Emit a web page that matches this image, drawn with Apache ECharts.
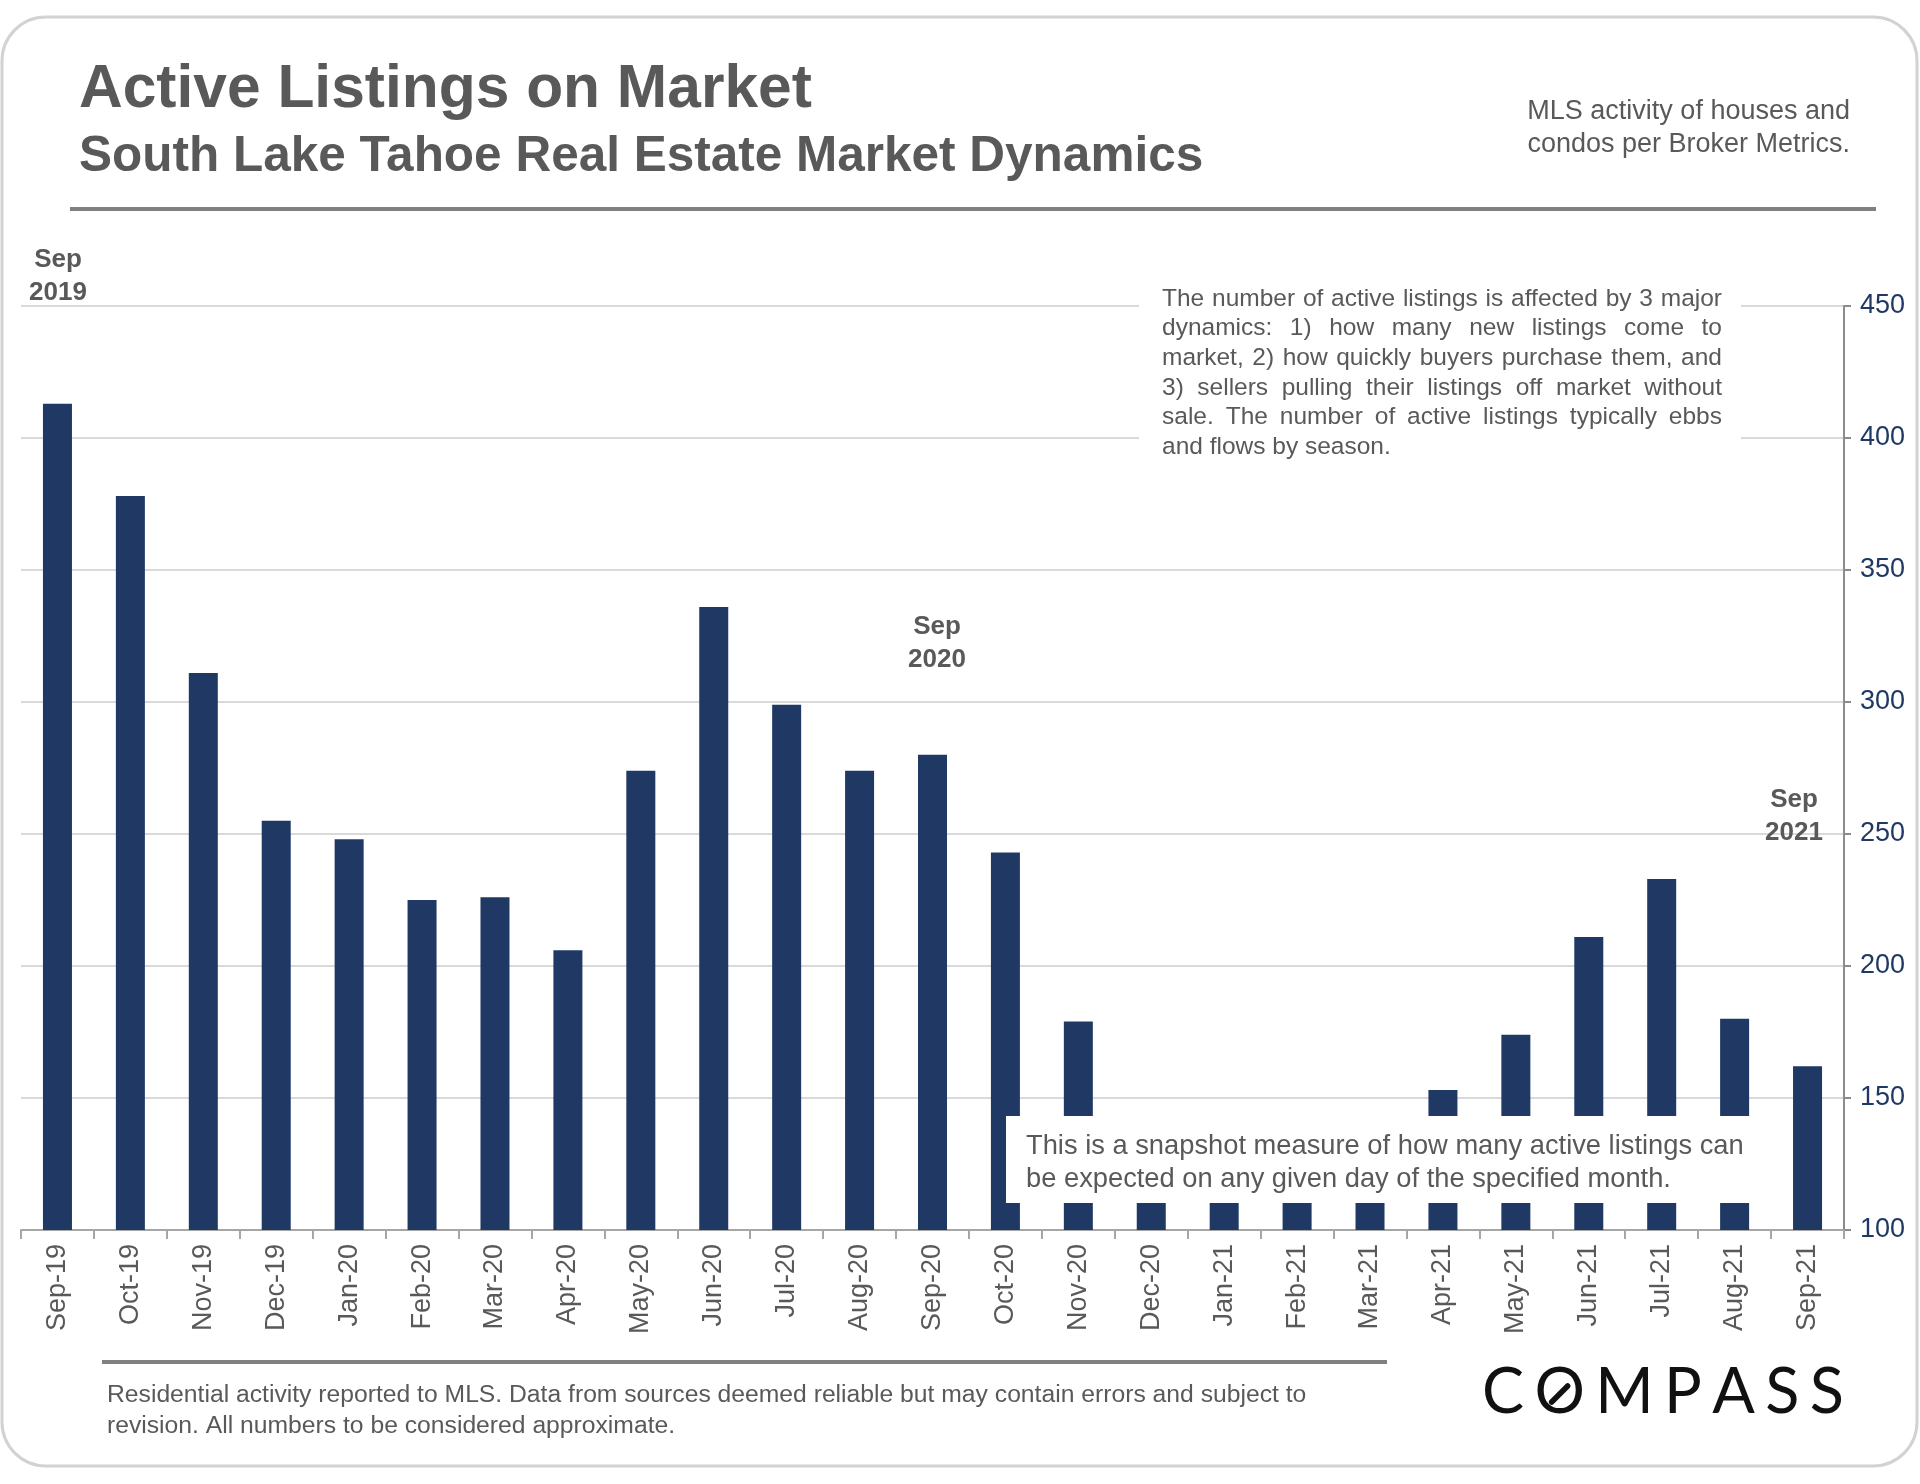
<!DOCTYPE html>
<html>
<head>
<meta charset="utf-8">
<script src="https://cdn.jsdelivr.net/npm/echarts@6/dist/echarts.min.js"></script>
<style>
html,body{margin:0;padding:0;background:#fff;}
#chart{width:1920px;height:1484px;}
</style>
</head>
<body>
<div id="chart"></div>
<script>
// ---------- data ----------
const categories = ['Sep-19','Oct-19','Nov-19','Dec-19','Jan-20','Feb-20','Mar-20','Apr-20','May-20','Jun-20','Jul-20','Aug-20','Sep-20','Oct-20','Nov-20','Dec-20','Jan-21','Feb-21','Mar-21','Apr-21','May-21','Jun-21','Jul-21','Aug-21','Sep-21'];
const activeListings = [413,378,311,255,248,225,226,206,274,336,299,274,280,243,179,138,124,117,128,153,174,211,233,180,162];
const yMin = 100, yMax = 450, yInterval = 50;

const titleText = 'Active Listings on Market';
const subtitleText = 'South Lake Tahoe Real Estate Market Dynamics';
const sourceLines = ['MLS activity of houses and', 'condos per Broker Metrics.'];
const dynamicsLines = [
  'The number of active listings is affected by 3 major',
  'dynamics: 1) how many new listings come to',
  'market, 2) how quickly buyers purchase them, and',
  '3) sellers pulling their listings off market without',
  'sale. The number of active listings typically ebbs',
  'and flows by season.'
];
const snapshotLines = [
  'This is a snapshot measure of how many active listings can',
  'be expected on any given day of the specified month.'
];
const footerLines = [
  'Residential activity reported to MLS. Data from sources deemed reliable but may contain errors and subject to',
  'revision. All numbers to be considered approximate.'
];
const yearMarks = [
  {text:'Sep\n2019', x:58, y:276},
  {text:'Sep\n2020', x:937, y:643},
  {text:'Sep\n2021', x:1794, y:816}
];
const logoText = 'COMPASS';

// ---------- style ----------
const FONT = '"Liberation Sans", Arial, Helvetica, sans-serif';
const GRAY = '#595959';
const NAVY = '#1f3864';

const measureCtx = document.createElement('canvas').getContext('2d');
function justified(lines, x, y0, width, lineH, font, color) {
  measureCtx.font = font;
  const els = [];
  lines.forEach((line, i) => {
    const words = line.split(' ');
    const ws = words.map(w => measureCtx.measureText(w).width);
    const total = ws.reduce((a, b) => a + b, 0);
    const isLast = i === lines.length - 1;
    const gap = (isLast || words.length < 2) ? measureCtx.measureText(' ').width : (width - total) / (words.length - 1);
    let cx = x;
    words.forEach((w, j) => {
      els.push({type:'text', x:cx, y:y0 + i*lineH, z:110, silent:true,
        style:{text:w, font:font, fill:color, textAlign:'left', textVerticalAlign:'middle'}});
      cx += ws[j] + gap;
    });
  });
  return els;
}

const graphics = [];
// card outline
graphics.push({type:'rect', z:0, silent:true, shape:{x:2, y:17, width:1915, height:1449, r:44},
  style:{fill:'none', stroke:'#d2d2d2', lineWidth:3}});
// header
graphics.push({type:'text', x:79, y:90, z:110, style:{text:titleText, font:'bold 60.5px ' + FONT, fill:GRAY, textVerticalAlign:'middle'}});
graphics.push({type:'text', x:79, y:157, z:110, style:{text:subtitleText, font:'bold 49.5px ' + FONT, fill:GRAY, textVerticalAlign:'middle'}});
sourceLines.forEach((t, i) => graphics.push({type:'text', x:1850, y:112 + i*33, z:110,
  style:{text:t, font:'27px ' + FONT, fill:GRAY, textAlign:'right', textVerticalAlign:'middle'}}));
graphics.push({type:'rect', z:110, shape:{x:70, y:207, width:1806, height:4}, style:{fill:'#808080'}});
// year annotations
yearMarks.forEach(m => graphics.push({type:'text', x:m.x, y:m.y, z:110,
  style:{text:m.text, font:'bold 26px ' + FONT, fill:GRAY, textAlign:'center', textVerticalAlign:'middle', lineHeight:33}}));
// dynamics box
graphics.push({type:'rect', z:105, shape:{x:1139, y:284, width:602, height:180}, style:{fill:'#fff'}});
graphics.push(...justified(dynamicsLines, 1162, 299, 560, 29.6, '24.5px ' + FONT, GRAY));
// snapshot box
graphics.push({type:'rect', z:105, shape:{x:1006, y:1116, width:757, height:87}, style:{fill:'#fff'}});
snapshotLines.forEach((t, i) => graphics.push({type:'text', x:1026, y:1146 + i*33, z:110,
  style:{text:t, font:'27.3px ' + FONT, fill:GRAY, textVerticalAlign:'middle'}}));
// footer
graphics.push({type:'rect', z:110, shape:{x:102, y:1360, width:1285, height:4}, style:{fill:'#808080'}});
footerLines.forEach((t, i) => graphics.push({type:'text', x:107, y:1395 + i*31, z:110,
  style:{text:t, font:'24.7px ' + FONT, fill:GRAY, textVerticalAlign:'middle'}}));
// logo
(function(){
  const lf = '63px Lato, "Open Sans", sans-serif';
  measureCtx.font = lf;
  const letters = logoText.split('');
  const ws = letters.map(c => measureCtx.measureText(c).width);
  const total = ws.reduce((a,b)=>a+b,0);
  const start = 1482, end = 1844;
  const gap = (end - start - total) / (letters.length - 1);
  const cy = 1393;
  let cx = start;
  letters.forEach((c, i) => {
    graphics.push({type:'text', x:cx, y:cy, z:110, style:{text:c, font:lf, fill:'#111', textVerticalAlign:'middle'}});
    if (c === 'O') {
      const cxm = cx + ws[i]/2;
      graphics.push({type:'line', z:111, shape:{x1:cxm-8, y1:cy+9, x2:cxm+8, y2:cy-7}, style:{stroke:'#111', lineWidth:5.5, lineCap:'round'}});
    }
    cx += ws[i] + gap;
  });
})();

const chart = echarts.init(document.getElementById('chart'), null, {renderer:'canvas'});
chart.setOption({
  backgroundColor:'#fff',
  animation:false,
  grid:{left:21, right:76, top:306, bottom:1484-1230, containLabel:false},
  xAxis:{
    type:'category', data:categories, boundaryGap:true,
    axisLine:{show:true, lineStyle:{color:'#a6a6a6', width:2}},
    axisTick:{show:true, alignWithLabel:false, length:9, lineStyle:{color:'#a6a6a6', width:2}},
    axisLabel:{rotate:90, color:GRAY, fontSize:27, fontFamily:FONT, margin:14, interval:0}
  },
  yAxis:{
    type:'value', position:'right', min:yMin, max:yMax, interval:yInterval,
    axisLine:{show:true, lineStyle:{color:'#8c8c8c', width:2}},
    axisTick:{show:true, inside:false, length:7, lineStyle:{color:'#8c8c8c', width:2}},
    axisLabel:{color:NAVY, fontSize:27, fontFamily:FONT, margin:16},
    splitLine:{show:true, lineStyle:{color:'#d9d9d9', width:2}}
  },
  series:[{
    type:'bar', data:activeListings, barWidth:29, z:2,
    itemStyle:{color:NAVY}
  }],
  graphic:graphics
});
</script>
</body>
</html>
